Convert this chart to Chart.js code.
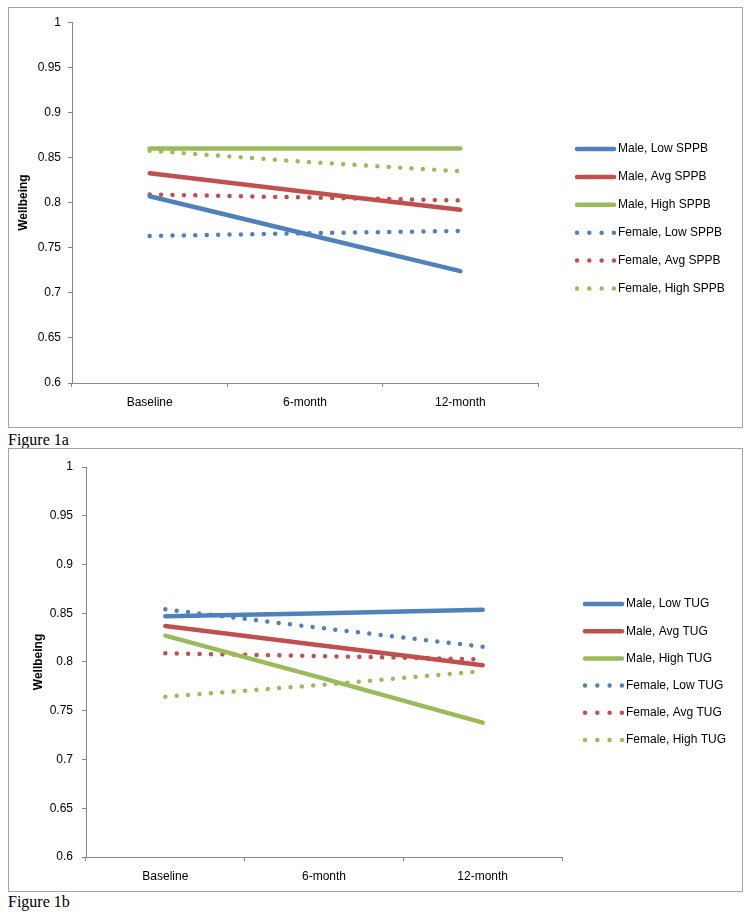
<!DOCTYPE html>
<html>
<head>
<meta charset="utf-8">
<script src="https://cdn.jsdelivr.net/npm/chart.js@4.4.1/dist/chart.umd.min.js"></script>
<style>
  body { margin: 0; background: #fff; width: 751px; height: 919px; position: relative; overflow: hidden; }
  .box { position: absolute; left: 8px; width: 735px; border: 1px solid #a3a3a3; box-sizing: border-box; }
  .box canvas { display: block; }
  .cap { position: absolute; left: 8px; font-family: "Liberation Serif", "Times New Roman", serif; font-size: 16px; line-height: 16px; color: #000; }
</style>
</head>
<body>
<div class="box" style="top:7px;height:421px"><canvas id="fig1a" width="733" height="419"></canvas></div>
<div class="cap" style="top:432px">Figure 1a</div>
<div class="box" style="top:448px;height:444px"><canvas id="fig1b" width="733" height="442"></canvas></div>
<div class="cap" style="top:894px">Figure 1b</div>
<script>
// time points
const timepoints = ["Baseline", "6-month", "12-month"];
const yTicks = { min: 0.6, max: 1, step: 0.05 };

// Figure 1a - SPPB groups
const sppbLabels = ["Male, Low SPPB", "Male, Avg SPPB", "Male, High SPPB",
  "Female, Low SPPB", "Female, Avg SPPB", "Female, High SPPB"];
const sppbMaleLow = [0.807, 0.7655, 0.724];
const sppbMaleAvg = [0.8325, 0.812, 0.792];
const sppbMaleHigh = [0.86, 0.86, 0.86];
const sppbFemaleLow = [0.763, 0.766, 0.7686];
const sppbFemaleAvg = [0.809, 0.8057, 0.8024];
const sppbFemaleHigh = [0.8575, 0.8452, 0.8347];

// Figure 1b - TUG groups
const tugLabels = ["Male, Low TUG", "Male, Avg TUG", "Male, High TUG",
  "Female, Low TUG", "Female, Avg TUG", "Female, High TUG"];
const tugMaleLow = [0.847, 0.85, 0.8535];
const tugMaleAvg = [0.837, 0.8167, 0.7966];
const tugMaleHigh = [0.827, 0.783, 0.7378];
const tugFemaleLow = [0.854, 0.8345, 0.8157];
const tugFemaleAvg = [0.8089, 0.806, 0.8027];
const tugFemaleHigh = [0.7644, 0.7767, 0.7907];

const colors = ["#4F81BD", "#C0504D", "#9BBB59"];
const DOTS = [0.01, 11.4];

Chart.defaults.font.family = "'Liberation Sans', Arial, sans-serif";
Chart.defaults.font.size = 12;
Chart.defaults.color = "#000";

// legend drawn at the right, one row per dataset
const sideLegend = {
  id: "sideLegend",
  afterDraw(chart, args, opts) {
    const ctx = chart.ctx;
    ctx.save();
    chart.data.datasets.forEach((ds, i) => {
      let y = opts.top + i * opts.gap;
      ctx.beginPath();
      ctx.strokeStyle = ds.borderColor;
      ctx.lineWidth = ds.borderWidth;
      ctx.lineCap = "round";
      // 4 dots for the dotted series, last one at the end of the sample
      ctx.setLineDash(ds.borderDash.length ? [0.01, (opts.len - 0.1) / 3] : []);
      ctx.moveTo(opts.x, y);
      ctx.lineTo(opts.x + opts.len, y);
      ctx.stroke();
      ctx.setLineDash([]);
      ctx.fillStyle = "#000";
      ctx.font = "12px 'Liberation Sans', Arial, sans-serif";
      ctx.textBaseline = "middle";
      ctx.fillText(ds.label, opts.x + opts.len + 4, y);
    });
    ctx.restore();
  },
};

function buildSets(labels, series) {
  return series.map((values, i) => ({
    label: labels[i],
    data: values,
    borderColor: colors[i % 3],
    backgroundColor: colors[i % 3],
    borderWidth: 4.5,
    borderCapStyle: "round",
    borderDash: i < 3 ? [] : DOTS,
    pointRadius: 0,
    tension: 0,
    fill: false,
  }));
}

function makeChart(id, datasets, g) {
  return new Chart(document.getElementById(id), {
    type: "line",
    data: { labels: timepoints, datasets: datasets },
    plugins: [sideLegend],
    options: {
      responsive: false,
      animation: false,
      events: [],
      layout: { padding: { left: 0, top: g.top, right: g.right, bottom: 0 } },
      plugins: {
        legend: { display: false },
        tooltip: { enabled: false },
        sideLegend: g.legend,
      },
      scales: {
        x: {
          type: "category",
          offset: true,
          afterFit: (s) => { s.height = g.xHeight; },
          grid: { offset: true, drawOnChartArea: false, drawTicks: true, tickLength: 4, color: "#888" },
          border: { color: "#888" },
          ticks: { padding: 8, maxRotation: 0 },
        },
        y: {
          min: yTicks.min,
          max: yTicks.max,
          afterFit: (s) => { s.width = g.left; },
          grid: { drawOnChartArea: false, drawTicks: true, tickLength: 4, color: "#888" },
          border: { color: "#888" },
          ticks: {
            stepSize: yTicks.step,
            padding: g.tickPad,
            callback: (v) => String(parseFloat(v.toFixed(2))),
          },
          title: {
            display: true,
            text: "Wellbeing",
            font: { weight: "bold", size: 12 },
            padding: { top: g.titlePad, bottom: 0 },
          },
        },
      },
    },
  });
}

makeChart("fig1a",
  buildSets(sppbLabels, [sppbMaleLow, sppbMaleAvg, sppbMaleHigh, sppbFemaleLow, sppbFemaleAvg, sppbFemaleHigh]),
  { left: 63, right: 204, top: 8, xHeight: 44, tickPad: 7, titlePad: 7,
    legend: { x: 568, len: 37, top: 141, gap: 27.9 } });

makeChart("fig1b",
  buildSets(tugLabels, [tugMaleLow, tugMaleAvg, tugMaleHigh, tugFemaleLow, tugFemaleAvg, tugFemaleHigh]),
  { left: 77, right: 180, top: 18, xHeight: 34, tickPad: 9, titlePad: 22,
    legend: { x: 576, len: 37, top: 155, gap: 27.2 } });
</script>
</body>
</html>
